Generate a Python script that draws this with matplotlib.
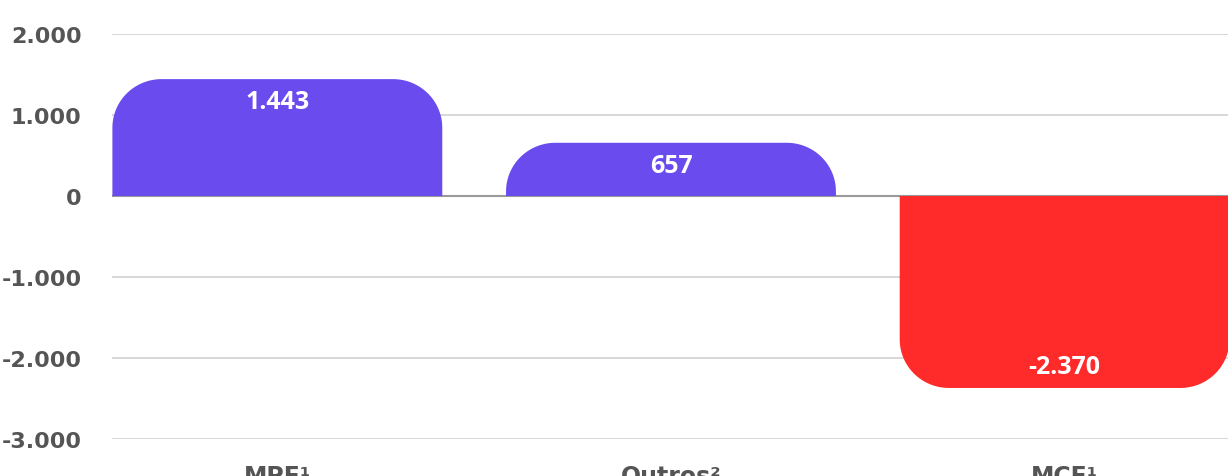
import numpy as np
import matplotlib
matplotlib.use('Agg')
import matplotlib.pyplot as plt
from matplotlib.patches import Polygon

# Data
categories = ['MPE', 'Outros', 'MCE']
notes = ['¹', '²', '¹']
values = [1443, 657, -2370]
value_labels = ['1.443', '657', '-2.370']
yticks = [2000, 1000, 0, -1000, -2000, -3000]
ytick_labels = ['2.000', '1.000', '0', '-1.000', '-2.000', '-3.000']

purple = '#6A4BEE'
red = '#FF2A2A'
tick_grey = '#555555'

fig = plt.figure(figsize=(12.28, 4.77), dpi=100)
ax = fig.add_axes([112 / 1228, 37 / 477, 1116 / 1228, 405 / 477])
ax.set_xlim(-0.42, 2.415)
ax.set_ylim(-3000, 2000)

# gridlines
for yv in yticks:
    if yv != 0:
        ax.axhline(yv, color='#d4d4d4', linewidth=1.3, zorder=0)
ax.axhline(0, color='#999999', linewidth=1.5, zorder=1)

width = 0.838
rx = 0.125   # corner radius in x data units (~49 px)
ry = 600     # corner radius in y data units (~49 px)


def rounded_bar(x0, w, v):
    """Bar with rounded corners on the end away from zero."""
    s = np.sign(v)
    r_y = min(ry, abs(v))
    cy = v - s * r_y
    pts = [(x0, 0)]
    for th in np.linspace(np.pi, np.pi / 2, 30):
        pts.append((x0 + rx + rx * np.cos(th), cy + s * r_y * np.sin(th)))
    for th in np.linspace(np.pi / 2, 0, 30):
        pts.append((x0 + w - rx + rx * np.cos(th), cy + s * r_y * np.sin(th)))
    pts.append((x0 + w, 0))
    return Polygon(pts, closed=True, linewidth=0)


for i, v in enumerate(values):
    color = purple if v >= 0 else red
    p = rounded_bar(i - width / 2, width, v)
    p.set_facecolor(color)
    p.set_zorder(2)
    ax.add_patch(p)
    yt = v - 280 if v > 0 else v + 260
    ax.text(i, yt, value_labels[i], ha='center', va='center', color='white',
            fontsize=18, fontweight='bold', family='Open Sans', zorder=3)

ax.set_yticks(yticks)
ax.set_yticklabels(ytick_labels, fontsize=16, fontweight='bold',
                   color=tick_grey, family='DejaVu Sans')
ax.tick_params(axis='y', length=0, pad=22)
ax.set_xticks(range(len(categories)))
ax.set_xticklabels([c + n for c, n in zip(categories, notes)],
                   fontsize=17, fontweight='bold', color=tick_grey,
                   family='DejaVu Sans')
ax.tick_params(axis='x', length=0, pad=18)

for sp in ax.spines.values():
    sp.set_visible(False)

fig.savefig('out.png', dpi=100)
